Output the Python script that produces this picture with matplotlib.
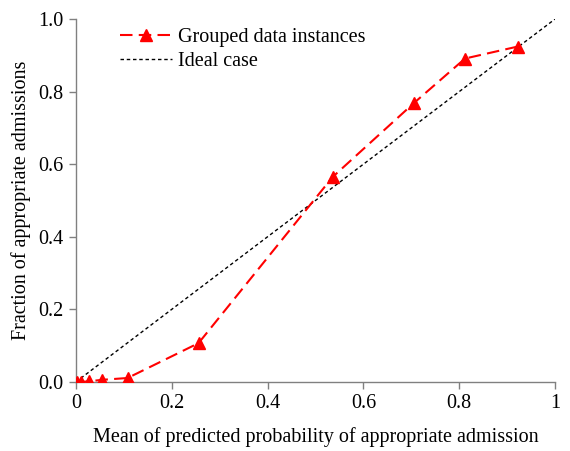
import matplotlib
matplotlib.use("Agg")
import matplotlib.pyplot as plt

plt.rcParams['font.family'] = ['Liberation Serif', 'DejaVu Serif']
plt.rcParams['mathtext.fontset'] = 'stix'

mean_pred = [0.002, 0.01, 0.028, 0.055, 0.108, 0.256, 0.536, 0.705, 0.812, 0.922]
frac_pos = [0.0, 0.0, 0.002, 0.006, 0.011, 0.107, 0.565, 0.768, 0.891, 0.924]
ideal = [0, 1]
xticks = [0, 0.2, 0.4, 0.6, 0.8, 1]
xticklabels = ['0', '0.2', '0.4', '0.6', '0.8', '1']
yticks = [0.0, 0.2, 0.4, 0.6, 0.8, 1.0]
yticklabels = ['0.0', '0.2', '0.4', '0.6', '0.8', '1.0']

fig = plt.figure(figsize=(5.70, 4.51), dpi=100)
ax = fig.add_axes([0.133, 0.153, 0.841, 0.805])

ax.plot(mean_pred, frac_pos, color='#ff0000', linestyle=(0, (6, 3)), linewidth=1.5,
        marker='^', markersize=8.5, label='Grouped data instances', zorder=3)
ax.plot(ideal, ideal, color='black', linestyle=(0, (2.5, 2)), linewidth=1.0,
        label='Ideal case', zorder=2)

ax.set_xlim(0, 1)
ax.set_ylim(0, 1)
ax.set_xticks(xticks)
ax.set_xticklabels(xticklabels)
ax.set_yticks(yticks)
ax.set_yticklabels(yticklabels)
ax.tick_params(labelsize=14.5, direction='out', length=5, color='#808080', width=1, pad=4)
for s in ['top', 'right']:
    ax.spines[s].set_visible(False)
for s in ['left', 'bottom']:
    ax.spines[s].set_color('#808080')
    ax.spines[s].set_linewidth(1)

ax.set_xlabel('Mean of predicted probability of appropriate admission', fontsize=14.5, labelpad=10)
ax.set_ylabel('Fraction of appropriate admissions', fontsize=14.5, labelpad=5)

ax.legend(loc='upper left', bbox_to_anchor=(0.055, 1.025), frameon=False, fontsize=14.5,
          handlelength=2.55, handletextpad=0.3, labelspacing=0.25)

fig.savefig('out.png', dpi=100)
